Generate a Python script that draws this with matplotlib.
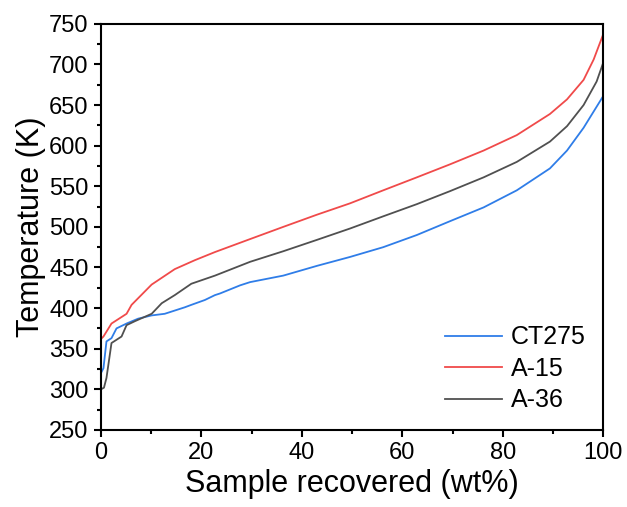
import matplotlib
matplotlib.use('Agg')
import matplotlib.pyplot as plt
from matplotlib.ticker import MultipleLocator

plt.rcParams['font.family'] = ['Liberation Sans', 'DejaVu Sans']

# Sample recovered (wt%) vs temperature (K)
ct275_x = [0, 0.5, 1.1, 2.1, 3.1, 5.1, 7.4, 10.1, 12.7, 14.7, 16.7, 18.0, 20.7, 22.7,
           23.7, 27.7, 29.7, 36.3, 43.0, 49.6, 56.2, 62.9, 69.5, 76.2, 82.8, 89.4,
           92.8, 96.1, 98.7, 100]
ct275_y = [320, 326, 359, 363, 375, 381, 387, 391, 393, 397, 401, 404, 410, 416,
           418, 428, 432, 440, 452, 463, 475, 490, 507, 524, 545, 572,
           594, 622, 648, 661]

a15_x = [0, 0.5, 2.1, 5.1, 6.1, 10.1, 14.7, 18.7, 22.7, 29.7, 36.3, 43.0, 49.6,
         56.2, 62.9, 69.5, 76.2, 82.8, 89.4, 92.8, 96.1, 98.1, 100]
a15_y = [362, 365, 381, 393, 404, 429, 448, 459, 469, 485, 500, 515, 529,
         545, 561, 577, 594, 613, 639, 657, 681, 706, 737]

a36_x = [0, 0.6, 1.1, 2.1, 4.1, 5.1, 6.8, 10.1, 12.1, 14.7, 18.0, 22.7, 29.7,
         36.3, 43.0, 49.6, 56.2, 62.9, 69.5, 76.2, 82.8, 89.4, 92.8, 96.1,
         98.7, 100]
a36_y = [300, 302, 314, 357, 365, 379, 384, 393, 406, 416, 430, 440, 457,
         470, 484, 498, 513, 528, 544, 561, 580, 605, 624, 650,
         679, 702]

fig = plt.figure(figsize=(6.27, 5.07), dpi=100)
ax = fig.add_axes([0.161, 0.152, 0.801, 0.801])

ax.plot(ct275_x, ct275_y, color='#2f7de8', lw=1.3, label='CT275')
ax.plot(a15_x, a15_y, color='#f04a4a', lw=1.3, label='A-15')
ax.plot(a36_x, a36_y, color='#505050', lw=1.3, label='A-36')

ax.set_xlim(0, 100)
ax.set_ylim(250, 750)
ax.xaxis.set_major_locator(MultipleLocator(20))
ax.xaxis.set_minor_locator(MultipleLocator(10))
ax.yaxis.set_major_locator(MultipleLocator(50))
ax.yaxis.set_minor_locator(MultipleLocator(25))
ax.tick_params(which='major', direction='out', length=5, width=1.5, labelsize=17, pad=4)
ax.tick_params(which='minor', direction='out', length=3, width=1.5)
for s in ax.spines.values():
    s.set_linewidth(1.5)

ax.set_xlabel('Sample recovered (wt%)', fontsize=22, labelpad=3)
ax.set_ylabel('Temperature (K)', fontsize=22, labelpad=2)

ax.legend(loc='lower right', bbox_to_anchor=(1.0, 0.0), frameon=False, fontsize=18,
          handlelength=2.3, handletextpad=0.35, labelspacing=0.3, borderaxespad=0.4,
          borderpad=0.3)

fig.savefig('out.png', dpi=100)
